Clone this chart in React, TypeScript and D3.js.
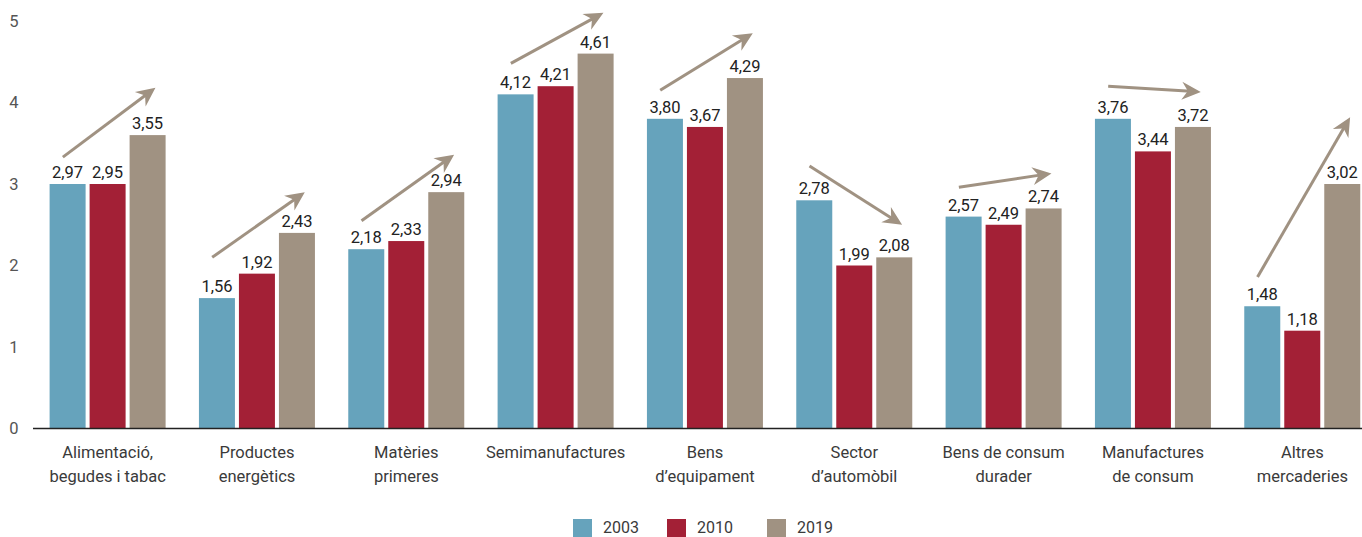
import React from "react";
import * as d3 from "d3";

const categories = [
  ["Alimentació,", "begudes i tabac"],
  ["Productes", "energètics"],
  ["Matèries", "primeres"],
  ["Semimanufactures"],
  ["Bens", "d’equipament"],
  ["Sector", "d’automòbil"],
  ["Bens de consum", "durader"],
  ["Manufactures", "de consum"],
  ["Altres", "mercaderies"],
];
const years = ["2003", "2010", "2019"];
const values2003 = [2.97, 1.56, 2.18, 4.12, 3.8, 2.78, 2.57, 3.76, 1.48];
const values2010 = [2.95, 1.92, 2.33, 4.21, 3.67, 1.99, 2.49, 3.44, 1.18];
const values2019 = [3.55, 2.43, 2.94, 4.61, 4.29, 2.08, 2.74, 3.72, 3.02];
// trend arrows (value-axis units): start and end levels
const arrowFrom = [3.33, 2.1, 2.55, 4.48, 4.15, 3.22, 2.96, 4.2, 1.86];
const arrowTo = [4.18, 2.9, 3.36, 5.1, 4.85, 2.5, 3.13, 4.13, 3.82];
const yTicks = [0, 1, 2, 3, 4, 5];

const colors = ["#66a3bc", "#a32036", "#a09282"];
const W = 1362;
const H = 537;

export default function App() {
  const series = [values2003, values2010, values2019];
  const x = d3
    .scaleBand<number>()
    .domain(d3.range(categories.length))
    .range([33, 1377]);
  const xs = d3.scaleBand<string>().domain(years).range([16.6, 132.6]).paddingInner(0.1);
  const y = d3.scaleLinear().domain([0, 5]).range([428.5, 21]);
  const fmt = (v: number) => d3.format(".2f")(v).replace(".", ",");
  const bw = x.bandwidth();
  const font = "Roboto, 'DejaVu Sans', sans-serif";

  return (
    <svg
      width={W}
      height={H}
      style={{ position: "absolute", left: 0, top: 0, background: "#fff" }}
      fontFamily={font}
    >
      {yTicks.map((t) => (
        <text key={t} x={14} y={y(t)} dy="0.36em" textAnchor="middle" fontSize={16.5} fill="#555">
          {t}
        </text>
      ))}
      {categories.map((c, i) => (
        <g key={i} transform={`translate(${x(i)},0)`}>
          {series.map((s, j) => {
            const bv = Math.round(s[i] * 10) / 10;
            const bx = xs(years[j])!;
            return (
              <g key={j}>
                <rect x={bx} y={y(bv)} width={xs.bandwidth()} height={y(0) - y(bv)} fill={colors[j]} />
                <text
                  x={bx + xs.bandwidth() / 2}
                  y={y(bv) - 6}
                  textAnchor="middle"
                  fontSize={16.5}
                  fill="#222"
                >
                  {fmt(s[i])}
                </text>
              </g>
            );
          })}
          {c.map((line, k) => (
            <text key={k} x={bw / 2} y={458 + k * 24} textAnchor="middle" fontSize={16.5} fill="#3a3a3a">
              {line}
            </text>
          ))}
          {(() => {
            const x1 = bw * 0.2;
            const x2 = bw * 0.82;
            const y1 = y(arrowFrom[i]);
            const y2 = y(arrowTo[i]);
            const ang = (Math.atan2(y2 - y1, x2 - x1) * 180) / Math.PI;
            const len = Math.hypot(x2 - x1, y2 - y1);
            return (
              <g transform={`translate(${x1},${y1}) rotate(${ang})`}>
                <line x1={0} y1={0} x2={len - 10} y2={0} stroke={colors[2]} strokeWidth={3} />
                <path
                  d={`M${len},0 L${len - 19},-9 L${len - 13},0 L${len - 19},9 Z`}
                  fill={colors[2]}
                />
              </g>
            );
          })()}
        </g>
      ))}
      <line x1={33} x2={W} y1={y(0)} y2={y(0)} stroke="#222" strokeWidth={1.5} />
      {years.map((yr, j) => {
        const lx = [573, 667, 767][j];
        return (
          <g key={yr}>
            <rect x={lx} y={519} width={19} height={19} fill={colors[j]} />
            <text x={lx + 30} y={533} fontSize={16} fill="#3a3a3a">
              {yr}
            </text>
          </g>
        );
      })}
    </svg>
  );
}
